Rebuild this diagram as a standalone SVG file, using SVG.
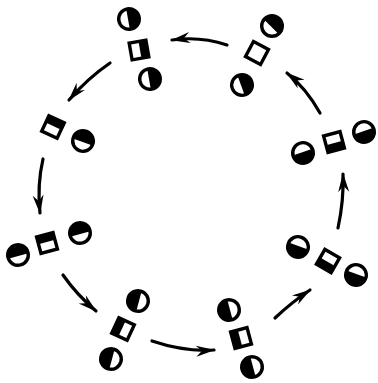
<svg xmlns="http://www.w3.org/2000/svg" xmlns:xlink="http://www.w3.org/1999/xlink" width="378" height="383" viewBox="0 0 378 383">
<style>
.arc{fill:none;stroke:#000;stroke-width:3.2;stroke-linecap:round;marker-end:url(#ah)}
</style>
<defs>
<marker id="ah" viewBox="-19 -6 20 12" refX="0" refY="0" markerWidth="20" markerHeight="12" markerUnits="userSpaceOnUse" orient="auto">
<path d="M1,0 L-18,-5.5 L-12,0 L-18,5.5 Z" fill="#000"/>
</marker>
<g id="hc">
<circle r="10.3" fill="#fff" stroke="#000" stroke-width="3.4"/>
<path d="M-10.3,1 A10.3,10.3 0 0 1 10.3,1 Z" fill="#000"/>
</g>
<g id="sq">
<rect x="-8.5" y="-8.5" width="17" height="17" fill="#fff" stroke="#000" stroke-width="3.4"/>
<rect x="-8.5" y="-8.5" width="17" height="7.5" fill="#000"/>
</g>
<g id="sq0">
<rect x="-8.5" y="-8.5" width="17" height="17" fill="#fff" stroke="#000" stroke-width="3.4"/>
</g>
</defs>
<g id="connectors">
<path class="arc" d="M227,45 Q200,36 172,40"/>
<path class="arc" d="M320,113 Q306,88 287,73"/>
<path class="arc" d="M110,63 Q88,78 69,100"/>
<path class="arc" d="M43,159 Q37,185 40,213"/>
<path class="arc" d="M63,275 Q77,295 96,311"/>
<path class="arc" d="M152,341 Q185,352 214,350"/>
<path class="arc" d="M275,318 Q292,302 310,290"/>
<path class="arc" d="M338,228 Q344,200 343,174"/>
</g>
<g id="nodeA">
<use xlink:href="#hc" transform="translate(129,19) rotate(80)"/>
<use xlink:href="#sq" transform="translate(139,50) rotate(80)"/>
<use xlink:href="#hc" transform="translate(150,79) rotate(80)"/>
</g>
<g id="nodeB">
<use xlink:href="#hc" transform="translate(272,26) rotate(45)"/>
<use xlink:href="#sq0" transform="translate(257,53) rotate(28)"/>
<use xlink:href="#hc" transform="translate(242,85) rotate(70)"/>
</g>
<g id="nodeC">
<use xlink:href="#hc" transform="translate(303,153) rotate(161)"/>
<use xlink:href="#sq" transform="translate(334,142) rotate(165)"/>
<use xlink:href="#hc" transform="translate(364,132) rotate(161)"/>
</g>
<g id="nodeD">
<use xlink:href="#hc" transform="translate(298,247) rotate(200)"/>
<use xlink:href="#sq" transform="translate(328,261) rotate(210)"/>
<use xlink:href="#hc" transform="translate(356,275) rotate(200)"/>
</g>
<g id="nodeE">
<use xlink:href="#hc" transform="translate(229,310) rotate(255)"/>
<use xlink:href="#sq" transform="translate(241,338) rotate(255)"/>
<use xlink:href="#hc" transform="translate(252,367) rotate(255)"/>
</g>
<g id="nodeF">
<use xlink:href="#hc" transform="translate(138,301) rotate(285)"/>
<use xlink:href="#sq" transform="translate(123,329) rotate(295)"/>
<use xlink:href="#hc" transform="translate(111,359) rotate(285)"/>
</g>
<g id="nodeG">
<use xlink:href="#hc" transform="translate(18,255) rotate(-15)"/>
<use xlink:href="#sq" transform="translate(47,243) rotate(-15)"/>
<use xlink:href="#hc" transform="translate(80,233) rotate(-15)"/>
</g>
<g id="nodeH">
<use xlink:href="#sq" transform="translate(53,127) rotate(25)"/>
<use xlink:href="#hc" transform="translate(83,141) rotate(20)"/>
</g>
</svg>
